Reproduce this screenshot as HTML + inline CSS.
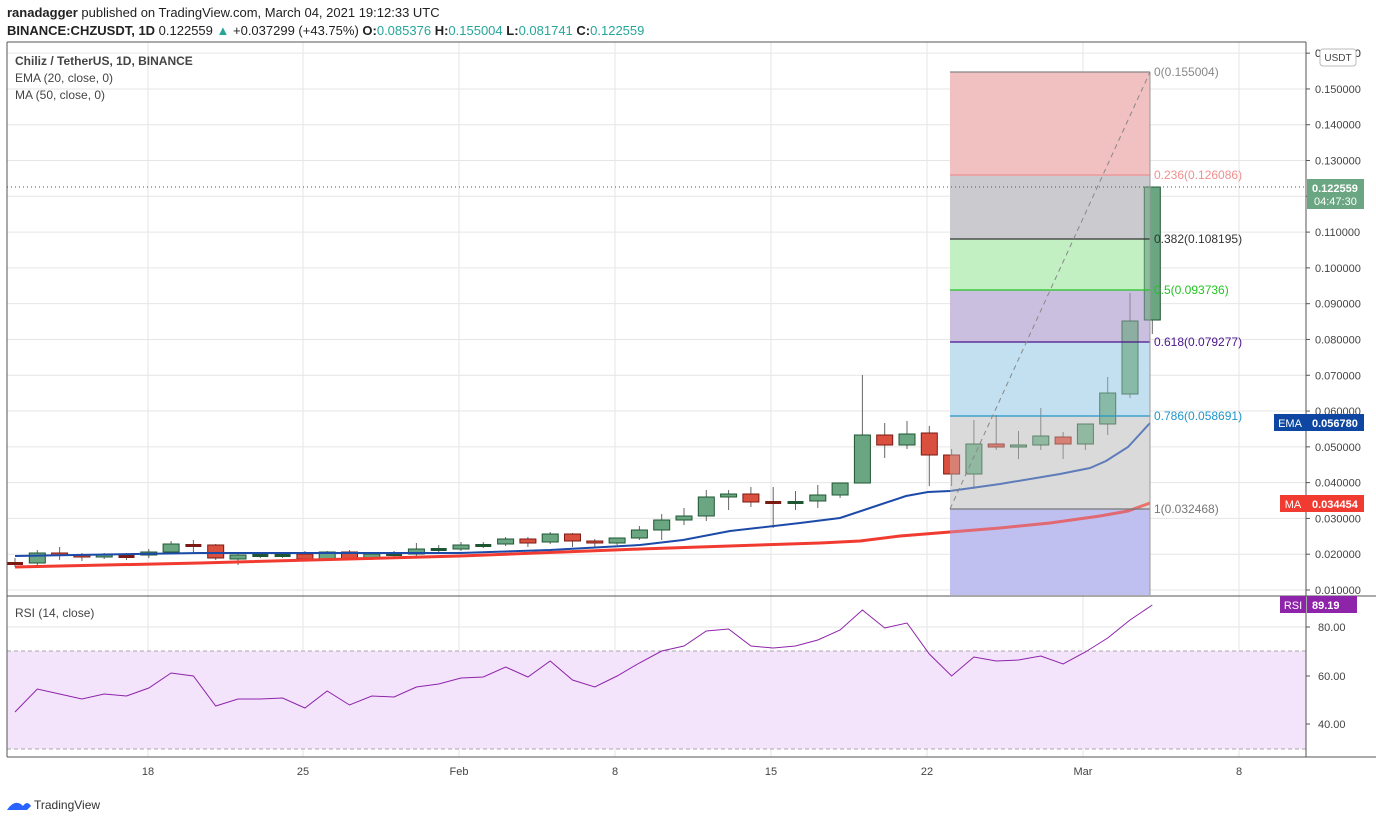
<!DOCTYPE html>
<html><head><meta charset="utf-8"><style>
html,body{margin:0;padding:0;background:#fff;width:1376px;height:823px;overflow:hidden;font-family:"Liberation Sans",sans-serif}
svg{position:absolute;left:0;top:0}
</style></head><body>
<svg id="s" width="1376" height="823" xmlns="http://www.w3.org/2000/svg" font-family="Liberation Sans, sans-serif">
<text x="7" y="17" font-size="13" fill="#222"><tspan font-weight="bold">ranadagger</tspan> published on TradingView.com, March 04, 2021 19:12:33 UTC</text>
<text x="7" y="35" font-size="13" fill="#222"><tspan font-weight="bold">BINANCE:CHZUSDT, 1D</tspan> 0.122559 <tspan fill="#26a69a">▲</tspan> +0.037299 (+43.75%) <tspan font-weight="bold">O:</tspan><tspan fill="#26a69a">0.085376</tspan> <tspan font-weight="bold">H:</tspan><tspan fill="#26a69a">0.155004</tspan> <tspan font-weight="bold">L:</tspan><tspan fill="#26a69a">0.081741</tspan> <tspan font-weight="bold">C:</tspan><tspan fill="#26a69a">0.122559</tspan></text>
<g id="g"></g>
</svg>
<script>
const g=document.getElementById('g');let h='';
const L=7,R=1306,T=42,B=757;
const fx1=950,fx2=1150;
const bands=[[72,175,'#f2c1c1'],[175,239,'#cbcacf'],[239,290,'#c2f0c2'],[290,342,'#cbbfe0'],[342,416,'#c3e0f2'],[416,509,'#dadada'],[509,595,'#c0c0f0']];
const prices=[];for(let p=0.01;p<=0.1601;p+=0.01)prices.push(p);
const py=p=>590-(p-0.01)*3579;
prices.forEach(p=>{const y=py(p);if(y>T&&y<595)h+=`<line x1="${L}" x2="${R}" y1="${y}" y2="${y}" stroke="#e6e6e6"/>`});
[627,676,724].forEach(y=>h+=`<line x1="${L}" x2="${R}" y1="${y}" y2="${y}" stroke="#e6e6e6"/>`);
const dx=[[148,'18'],[303,'25'],[459,'Feb'],[615,'8'],[771,'15'],[927,'22'],[1083,'Mar'],[1239,'8']];
dx.forEach(d=>{h+=`<line x1="${d[0]}" x2="${d[0]}" y1="${T}" y2="${B}" stroke="#e6e6e6"/><text x="${d[0]}" y="775" font-size="11" fill="#444" text-anchor="middle">${d[1]}</text>`});
bands.forEach(b=>h+=`<rect x="${fx1}" y="${b[0]}" width="${fx2-fx1}" height="${b[1]-b[0]}" fill="${b[2]}"/>`);
h+=`<rect x="${L}" y="651" width="${R-L}" height="98" fill="#f3e3fb"/>`;
h+=`<line x1="${L}" x2="${R}" y1="651" y2="651" stroke="#aaa" stroke-dasharray="4,3"/><line x1="${L}" x2="${R}" y1="749" y2="749" stroke="#aaa" stroke-dasharray="4,3"/>`;
const cs=[[563,563,558,567],[563,553,550,565],[553,555,547,560],[555,557,553,561],[557,555,553,559],[556,556,553,560],[555,552,549,558],[552,544,541,553],[545,545,540,553],[545,558,544,560],[559,555,552,565],[555,555,552,558],[555,555,552,558],[554,559,551,560],[559,552,551,561],[552,559,550,560],[559,554,552,560],[554,554,551,557],[554,549,543,556],[549,549,545,552],[549,545,542,551],[545,545,542,548],[544,539,537,546],[539,543,537,547],[542,534,532,544],[534,541,533,547],[541,543,539,547],[543,538,538,545],[538,530,526,540],[530,520,514,540],[520,516,508,525],[516,497,490,521],[497,494,490,510],[494,502,487,507],[502,502,487,528],[502,502,491,510],[501,495,485,508],[495,483,483,498],[483,435,375,483],[435,445,423,458],[445,434,421,449],[433,455,426,486],[455,474,449,486],[474,444,420,489],[444,447,415,450],[447,445,431,459],[445,436,408,450],[437,444,432,459],[444,424,424,450],[424,393,377,435],[394,321,293,398],[320,187,187,334]];
const reds=[0,2,3,5,8,9,13,15,23,25,26,33,34,39,41,42,44,47];
cs.forEach((c,i)=>{const x=15+22.3*i;const red=reds.includes(i);
const fill=red?'#d9503f':'#6aa682',st=red?'#7a1a12':'#1e5631';
const top=Math.min(c[0],c[1]),bot=Math.max(c[0],c[1]);
h+=`<line x1="${x}" x2="${x}" y1="${c[2]}" y2="${c[3]}" stroke="#666"/>`;
if(bot-top<2)h+=`<rect x="${x-8}" y="${top-1}" width="16" height="3" fill="${st}"/>`;
else h+=`<rect x="${x-8}" y="${top}" width="16" height="${bot-top}" fill="${fill}" stroke="${st}"/>`;});
const ema=[[15,556],[200,553],[460,553],[550,550],[640,545],[683,540],[730,531],[800,523],[840,518],[870,508],[906,496],[928,492],[950,491],[1000,484],[1060,474],[1090,468],[1106,461],[1128,447],[1150,423]];
const ma=[[15,567],[200,563],[460,556],[640,549],[820,543],[860,541],[900,536],[950,532],[1000,528],[1050,523],[1100,516],[1128,511],[1150,503]];
h+=`<polyline points="${ma.join(' ')}" fill="none" stroke="#f23b30" stroke-width="3"/>`;
h+=`<polyline points="${ema.join(' ')}" fill="none" stroke="#1c4aa8" stroke-width="2"/>`;
// translucent overlay of fib bands over candles
bands.forEach(b=>h+=`<rect x="${fx1}" y="${b[0]}" width="${fx2-fx1}" height="${b[1]-b[0]}" fill="${b[2]}" opacity="0.35"/>`);
const fl=[[72,'#888','0(0.155004)'],[175,'#f09090','0.236(0.126086)'],[239,'#333','0.382(0.108195)'],[290,'#22c422','0.5(0.093736)'],[342,'#4a148c','0.618(0.079277)'],[416,'#2196c8','0.786(0.058691)'],[509,'#777','1(0.032468)']];
fl.forEach(f=>h+=`<line x1="${fx1}" x2="${fx2}" y1="${f[0]}" y2="${f[0]}" stroke="${f[1]}" stroke-width="1.3"/>`);
h+=`<line x1="${fx2}" x2="${fx2}" y1="72" y2="595" stroke="#999"/>`;
h+=`<line x1="950" y1="509" x2="1150" y2="72" stroke="#888" stroke-dasharray="5,4"/>`;
fl.forEach(f=>h+=`<text x="${fx2+4}" y="${f[0]+4}" font-size="12" fill="${f[1]}">${f[2]}</text>`);
const rsi=[712,689,694,699,694,696,688,673,676,706,699,699,698,708,691,705,696,697,687,684,678,677,667,677,661,680,687,676,663,651,646,631,629,646,648,646,640,630,610,628,623,654,676,657,661,660,656,664,652,638,620,605];
h+=`<polyline points="${rsi.map((y,i)=>(15+22.3*i)+','+y).join(' ')}" fill="none" stroke="#8e24aa" stroke-width="1"/>`;
h+=`<line x1="${L}" x2="${L}" y1="${T}" y2="${B}" stroke="#555"/><line x1="${L}" x2="${R}" y1="${T}" y2="${T}" stroke="#555"/><line x1="${R}" x2="${R}" y1="${T}" y2="${B}" stroke="#555"/><line x1="${L}" x2="1376" y1="${B}" y2="${B}" stroke="#555"/><line x1="${L}" x2="1376" y1="596" y2="596" stroke="#555"/>`;
h+=`<line x1="${L}" x2="${R}" y1="187" y2="187" stroke="#555" stroke-dasharray="1,3"/>`;
prices.forEach(p=>{const y=py(p);if(y>50&&y<595){h+=`<line x1="${R}" x2="${R+4}" y1="${y}" y2="${y}" stroke="#555"/><text x="${R+9}" y="${y+4}" font-size="11" fill="#444">${p.toFixed(6)}</text>`}});
h+=`<text x="${R+9}" y="57" font-size="11" fill="#444">0.160000</text><rect x="1320" y="49" width="36" height="17" rx="3" fill="#fff" stroke="#bbb"/><text x="1338" y="61" font-size="10" fill="#444" text-anchor="middle">USDT</text>`;
[[627,'80.00'],[676,'60.00'],[724,'40.00']].forEach(r=>h+=`<line x1="${R}" x2="${R+4}" y1="${r[0]}" y2="${r[0]}" stroke="#555"/><text x="${R+12}" y="${r[0]+4}" font-size="11" fill="#444">${r[1]}</text>`);
h+=`<rect x="${R+1}" y="179" width="57" height="30" fill="#6aa682"/><text x="1312" y="192" font-size="11" font-weight="bold" fill="#fff">0.122559</text><text x="1314" y="205" font-size="11" fill="#fff">04:47:30</text>`;
h+=`<rect x="1274" y="414" width="33" height="17" fill="#0d47a1"/><text x="1290" y="427" font-size="11" fill="#fff" text-anchor="middle">EMA</text><rect x="${R+1}" y="414" width="57" height="17" fill="#0d47a1"/><text x="1312" y="427" font-size="11" font-weight="bold" fill="#fff">0.056780</text>`;
h+=`<rect x="1280" y="495" width="27" height="17" fill="#f23b30"/><text x="1293" y="508" font-size="11" fill="#fff" text-anchor="middle">MA</text><rect x="${R+1}" y="495" width="57" height="17" fill="#f23b30"/><text x="1312" y="508" font-size="11" font-weight="bold" fill="#fff">0.034454</text>`;
h+=`<rect x="1280" y="596" width="26" height="17" fill="#8e24aa"/><text x="1293" y="609" font-size="11" fill="#fff" text-anchor="middle">RSI</text><rect x="${R+1}" y="596" width="50" height="17" fill="#8e24aa"/><text x="1312" y="609" font-size="11" font-weight="bold" fill="#fff">89.19</text>`;
h+=`<text x="15" y="65" font-size="12" font-weight="bold" fill="#444">Chiliz / TetherUS, 1D, BINANCE</text><text x="15" y="82" font-size="12" fill="#444">EMA (20, close, 0)</text><text x="15" y="99" font-size="12" fill="#444">MA (50, close, 0)</text><text x="15" y="617" font-size="12" fill="#444">RSI (14, close)</text>`;
h+=`<path d="M7 810 q8 -12 16 -4 q4 -6 8 0 l-4 4 z" fill="#2962ff"/><text x="34" y="809" font-size="12" fill="#333">TradingView</text>`;
g.innerHTML=h;
</script>
</body></html>
